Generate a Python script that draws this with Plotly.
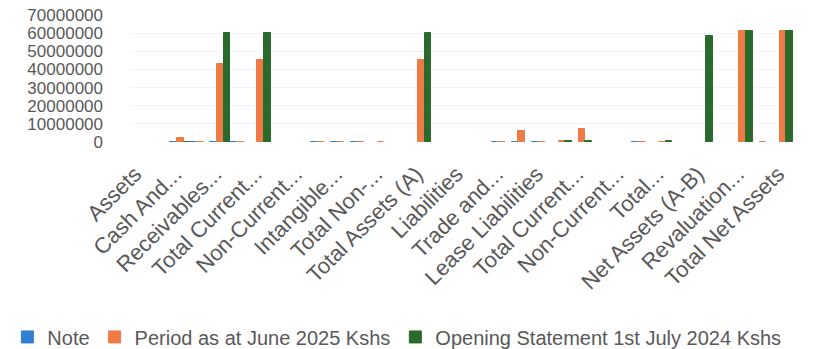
import plotly.graph_objects as go

# Category labels (every other category is unlabelled in the original chart)
labels = [
    "Assets", "", "Cash And...", "", "Receivables...", "", "Total Current...", "",
    "Non-Current...", "", "Intangible...", "", "Total Non-...", "", "Total Assets (A)", "",
    "Liabilities", "", "Trade and...", "", "Lease Liabilities", "", "Total Current...", "",
    "Non-Current...", "", "Total...", "", "Net Assets (A-B)", "", "Revaluation...", "",
    "Total Net Assets",
]

note = [None, None, 6, 7, 8, 9, None, None,
        None, 10, 11, 12, None, None, None, None,
        None, None, 13, 14, 15, None, None, None,
        None, 16, None, None, None, None, None, None,
        None]

period_2025 = [None, None, 2300000, 100000, 42800000, 80000, 45100000, None,
               None, 120000, 100000, 100000, 200000, None, 45300000, None,
               None, None, 100000, 6200000, 100000, 300000, 7200000, None,
               None, 100000, 100000, None, None, None, 61200000, 150000,
               61200000]

opening_2024 = [None, None, 50000, None, 60000000, None, 60000000, None,
                None, None, None, None, None, None, 60000000, None,
                None, None, None, None, None, 500000, 800000, None,
                None, None, 700000, None, 58400000, None, 61200000, None,
                61200000]

series_names = ["Note", "Period as at June 2025 Kshs", "Opening Statement 1st July 2024 Kshs"]
colors = ["#2f7fd0", "#ee7a45", "#2a6a2c"]

x = list(range(len(labels)))
tickvals = [i for i, t in enumerate(labels) if t]
ticktext = [t for t in labels if t]

FONT = "Liberation Sans, Arial, sans-serif"
GREY = "#595959"

fig = go.Figure()
for name, vals, col in zip(series_names, [note, period_2025, opening_2024], colors):
    fig.add_trace(go.Bar(
        x=x, y=vals, name=name,
        marker=dict(color=col, line=dict(color=col, width=1)),
    ))

fig.update_layout(
    width=813, height=349,
    margin=dict(l=130, r=20, t=15, b=207, autoexpand=False),
    paper_bgcolor="white", plot_bgcolor="white",
    barmode="group", bargap=0.0, bargroupgap=0.0,
    font=dict(family=FONT, color=GREY, size=20),
    showlegend=True,
    legend=dict(
        orientation="h", x=-0.185, xanchor="left",
        y=-1.535, yanchor="middle",
        font=dict(family=FONT, size=20, color=GREY),
        itemwidth=30, tracegroupgap=0,
    ),
)
fig.update_xaxes(
    range=[-0.5, len(labels) - 0.5],
    tickmode="array", tickvals=tickvals, ticktext=ticktext,
    tickangle=-45, tickfont=dict(family=FONT, size=22, color=GREY),
    showgrid=False, zeroline=False, showline=False, ticks="",
    ticklabelstandoff=14, ticklabelshift=-5, automargin=False,
)
fig.update_yaxes(
    range=[0, 70000000], dtick=10000000, tickformat="d",
    tickfont=dict(family=FONT, size=17, color=GREY),
    showgrid=True, gridcolor="#f3f3f3", zeroline=False, showline=False,
    ticklabelstandoff=26, automargin=False,
)

fig.write_html("out.html")
